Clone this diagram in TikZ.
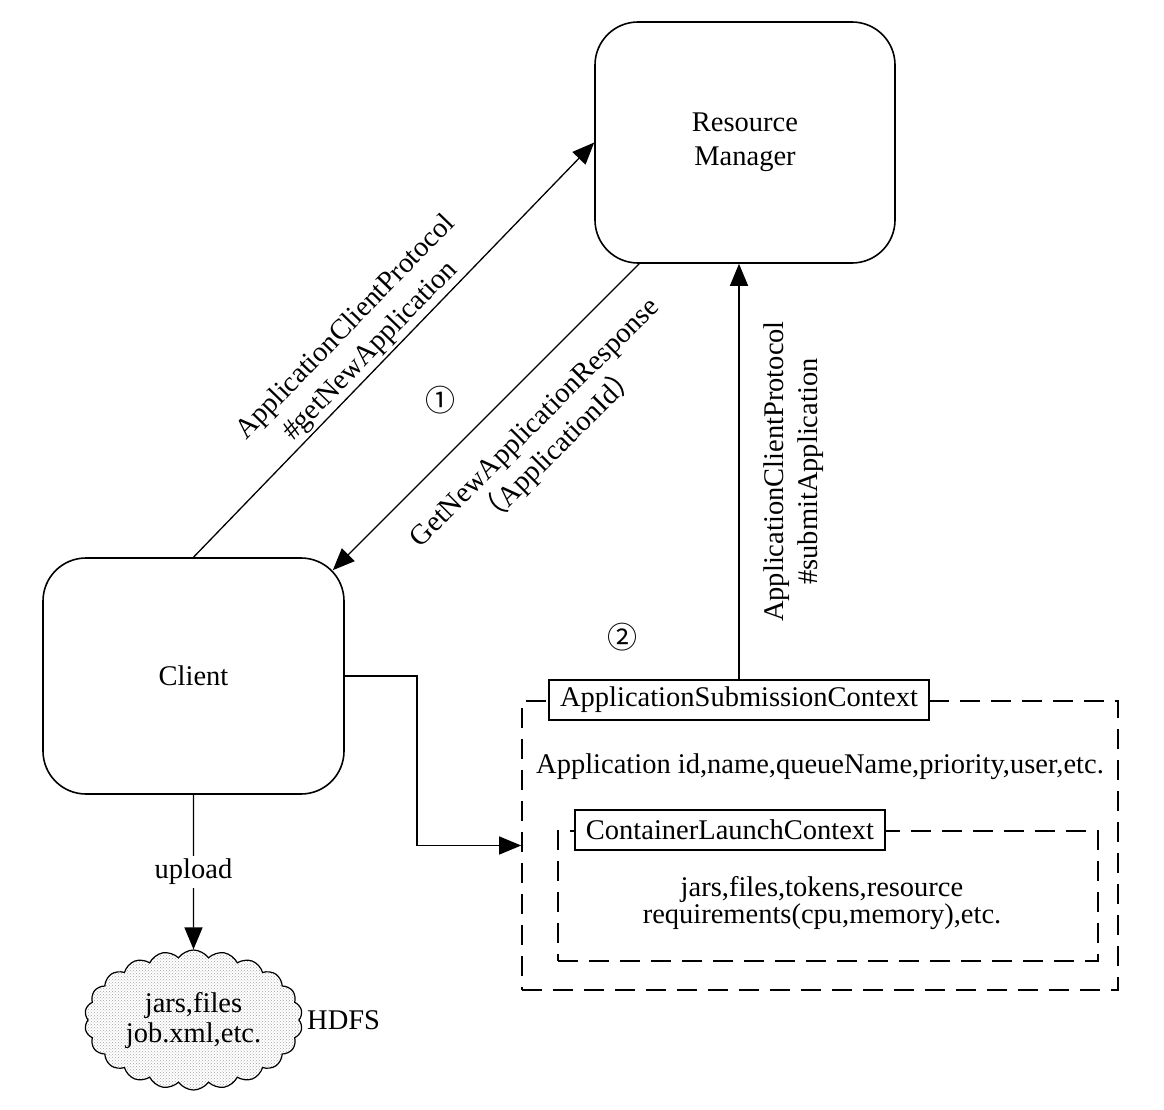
\documentclass[tikz,border=0pt]{standalone}
\usepackage{fontspec}
\setmainfont{Liberation Serif}
\newfontfamily\cjk{Noto Sans CJK SC}
\usetikzlibrary{arrows.meta,calc,shapes.symbols,patterns}

\begin{document}
\begin{tikzpicture}[x=1pt,y=-1pt,
    font=\fontsize{28.5}{34}\selectfont,
    box/.style={draw, line width=1.6pt, rounded corners=43pt, minimum width=301pt, minimum height=236pt, align=center},
    arr/.style={line width=1.3pt, -{Triangle[length=22pt,width=18pt]}},
    frame/.style={draw, line width=1.6pt, dash pattern=on 20pt off 11pt},
    tag/.style={draw, line width=1.3pt, fill=white, inner xsep=11pt, minimum height=40pt}]
\useasboundingbox (0,0) rectangle (1164,1110);
% Client and Resource Manager
\node[box] (client) at (193.5,676) {Client};
\node[box, minimum width=300pt, minimum height=241pt] (rm) at (745,142.5) {Resource\\Manager};
% Submission context frames
\node[frame, minimum width=596pt, minimum height=289pt] (ascframe) at (820,845.5) {};
\node[frame, minimum width=540pt, minimum height=130pt] (clcframe) at (828,896) {};
\node[tag] (asc) at (739,700) {ApplicationSubmissionContext};
\node[tag] (clc) at (730,830) {ContainerLaunchContext};
\node (appinfo) at (820,767) {Application id,name,queueName,priority,user,etc.};
\node[align=center, font=\fontsize{28.5}{27}\selectfont] (clcinfo) at (822,903) {jars,files,tokens,resource\\requirements(cpu,memory),etc.};
% HDFS cloud
\node[cloud, cloud puffs=22, cloud puff arc=110, cloud ignores aspect, draw, line width=1.2pt,
      pattern=crosshatch dots, pattern color=gray!70, minimum width=218pt, minimum height=140pt,
      align=center, font=\fontsize{28.5}{30}\selectfont] (hdfs) at (193.5,1020) {jars,files\\job.xml,etc.};
\node[right, xshift=4pt] (hdfslabel) at (hdfs.east) {HDFS};
% Step numbers
\node[font={\cjk\fontsize{30}{30}\selectfont}] (one) at (440,400) {①};
\node[font={\cjk\fontsize{30}{30}\selectfont}] (two) at (622,637) {②};
% Connectors
\draw[arr] (client.north) -- (rm.west)
    node[pos=0.47, sloped, above, align=center, inner sep=2pt] {ApplicationClientProtocol\\\#getNewApplication};
\draw[arr] ($(rm.south west)+(45,0)$) -- ($(client.north east)+(-12,13)$)
    node[pos=0.43, sloped, below=24pt, align=center, inner sep=2pt] {GetNewApplicationResponse\\{\cjk （}ApplicationId{\cjk ）}};
\draw[arr] (asc.north) -- (asc.north |- rm.south)
    node[midway, sloped, below=22pt, align=center, inner sep=2pt] {ApplicationClientProtocol\\\#submitApplication};
\coordinate (turn) at (417,676);
\draw[arr] (client.east) -- (turn) |- (ascframe.west);
\draw[arr] (client.south) -- (hdfs.north) node[midway, fill=white] {upload};
\end{tikzpicture}
\end{document}
